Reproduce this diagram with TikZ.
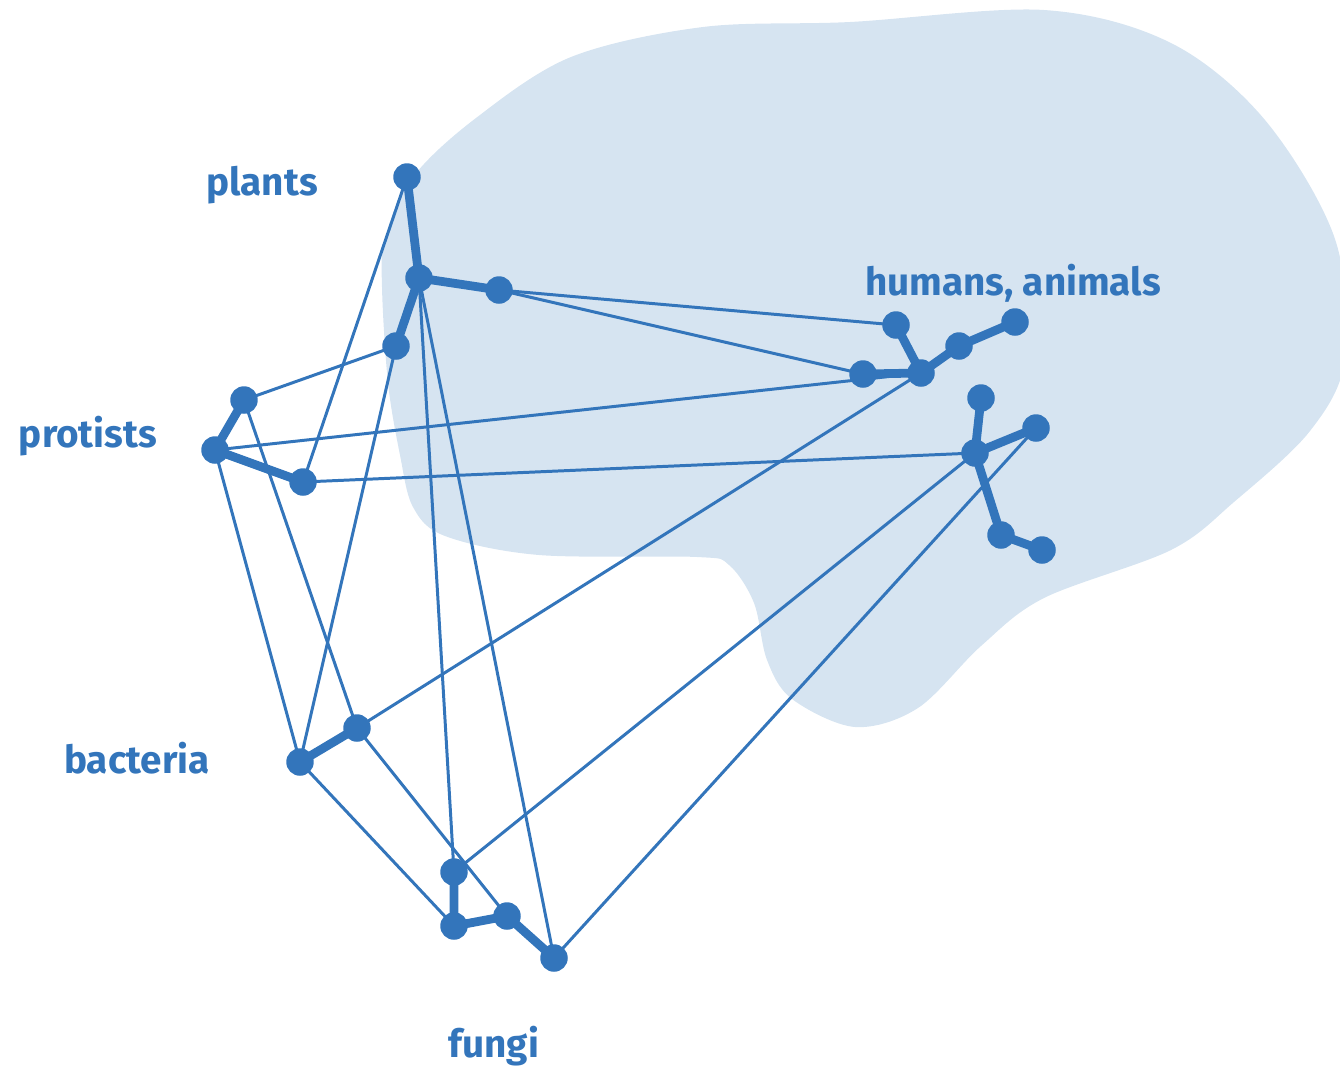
\documentclass[tikz,border=0pt]{standalone}
\usepackage{fontspec}
\setmainfont{Fira Sans}
\definecolor{nblue}{HTML}{3375BB}
\definecolor{blob}{HTML}{D6E4F1}
\begin{document}
\begin{tikzpicture}[x=0.02cm,y=-0.02cm,
  dot/.style={circle,fill=nblue,inner sep=0pt,minimum size=0.55cm},
  thin/.style={draw=nblue,line width=1.7pt},
  thick/.style={draw=nblue,line width=5pt},
  lab/.style={text=nblue,font=\fontsize{22}{25}\selectfont\bfseries,inner sep=0pt}]
\useasboundingbox (0,0) rectangle (1340,1076);
\begin{scope}
\clip (0,0) rectangle (1340,1076);
\fill[blob] plot[smooth cycle,tension=0.55] coordinates {
(413,177) (476,118) (571,57) (703,27) (850,22) (1044,10) (1171,43) (1265,120)
(1335,239) (1345,359) (1310,431) (1234,502) (1171,550) (1044,598) (981,646)
(918,708) (855,727) (792,699) (767,660) (754,603) (729,565) (697,557) (539,555)
(445,536) (413,507) (400,455) (388,383) (382,287) (385,239)};
\end{scope}
% nodes
\node[dot] (P1) at (407,177) {};
\node[dot] (P2) at (419,278) {};
\node[dot] (P3) at (499,290) {};
\node[dot] (P4) at (396,346) {};
\node[dot] (H1) at (896,325) {};
\node[dot] (H2) at (921,373) {};
\node[dot] (H3) at (863,374) {};
\node[dot] (H4) at (959,346) {};
\node[dot] (H5) at (1015,322) {};
\node[dot] (A1) at (981,398) {};
\node[dot] (A2) at (975,453) {};
\node[dot] (A3) at (1036,428) {};
\node[dot] (A4) at (1001,535) {};
\node[dot] (A5) at (1042,550) {};
\node[dot] (R1) at (244,400) {};
\node[dot] (R2) at (215,450) {};
\node[dot] (R3) at (303,482) {};
\node[dot] (B1) at (300,762) {};
\node[dot] (B2) at (357,728) {};
\node[dot] (F1) at (454,872) {};
\node[dot] (F2) at (454,926) {};
\node[dot] (F3) at (507,916) {};
\node[dot] (F4) at (554,958) {};
% thin connectors
\draw[thin] (P1.center) -- (R3.center);
\draw[thin] (P2.center) -- (F1.center);
\draw[thin] (P2.center) -- (F4.center);
\draw[thin] (P3.center) -- (H1.center);
\draw[thin] (P3.center) -- (H3.center);
\draw[thin] (P4.center) -- (R1.center);
\draw[thin] (P4.center) -- (B1.center);
\draw[thin] (R2.center) -- (H2.center);
\draw[thin] (R3.center) -- (A2.center);
\draw[thin] (R2.center) -- (B1.center);
\draw[thin] (R1.center) -- (B2.center);
\draw[thin] (B2.center) -- (F3.center);
\draw[thin] (B1.center) -- (F2.center);
\draw[thin] (B2.center) -- (H2.center);
\draw[thin] (F1.center) -- (A2.center);
\draw[thin] (F4.center) -- (A3.center);
% thick connectors
\draw[thick] (P1.center) -- (P2.center) -- (P3.center);
\draw[thick] (P2.center) -- (P4.center);
\draw[thick] (H1.center) -- (H2.center) -- (H3.center);
\draw[thick] (H2.center) -- (H4.center) -- (H5.center);
\draw[thick] (A1.center) -- (A2.center) -- (A3.center);
\draw[thick] (A2.center) -- (A4.center) -- (A5.center);
\draw[thick] (R1.center) -- (R2.center) -- (R3.center);
\draw[thick] (B1.center) -- (B2.center);
\draw[thick] (F1.center) -- (F2.center) -- (F3.center) -- (F4.center);
% labels
\node[lab] (Lp) at (262,185) {plants};
\node[lab] (Lh) at (1013,283) {humans, animals};
\node[lab] (Lr) at (88,436) {protists};
\node[lab] (Lb) at (137,758) {bacteria};
\node[lab] (Lf) at (494,1046) {fungi};
\end{tikzpicture}
\end{document}
